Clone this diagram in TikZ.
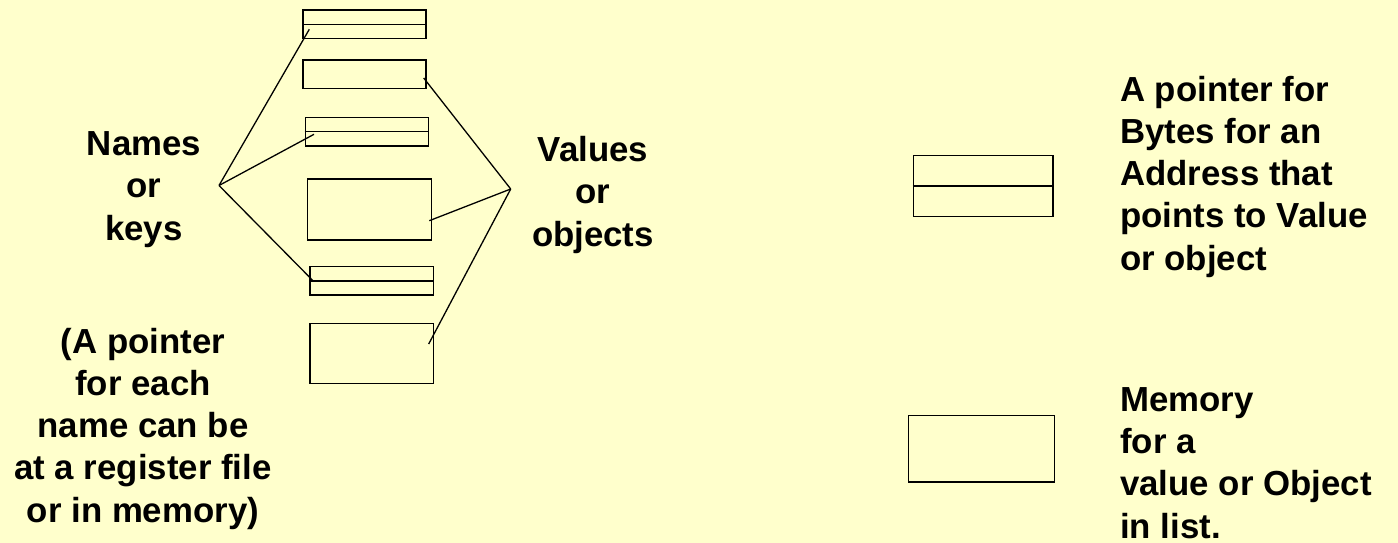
\documentclass[tikz,border=0pt]{standalone}
\usepackage{fontspec}
\setmainfont{Liberation Sans}
\definecolor{bgyellow}{HTML}{FFFFCC}
\begin{document}
\begin{tikzpicture}[x=1pt,y=-1pt,
  cell/.style={draw=black,line width=1.5pt,inner sep=0pt,fill=none},
  conn/.style={draw=black,line width=1.3pt},
  lbl/.style={inner sep=0pt,font=\bfseries\fontsize{34.8}{42.2}\selectfont}]
\fill[bgyellow] (0,0) rectangle (1398,543);
\useasboundingbox (0,0) rectangle (1398,543);
% left column of cells
\node[cell,minimum width=123pt,minimum height=28.5pt] (b1) at (364.7,24.3) {};
\node[cell,minimum width=123pt,minimum height=28.5pt] (b2) at (364.7,74.4) {};
\node[cell,minimum width=123.4pt,minimum height=28.7pt] (b3) at (367,131.7) {};
\node[cell,minimum width=124pt,minimum height=61pt] (b4) at (369.3,209.5) {};
\node[cell,minimum width=123.3pt,minimum height=28.3pt] (b5) at (371.7,280.8) {};
\node[cell,minimum width=123.3pt,minimum height=60pt] (b6) at (371.7,353.3) {};
\draw[line width=1.5pt] (b1.west) -- (b1.east);
\draw[line width=1.5pt] (b3.west) -- (b3.east);
\draw[line width=1.5pt] (b5.west) -- (b5.east);
% right legend cells
\node[cell,minimum width=139.7pt,minimum height=61pt] (ra) at (983.2,185.8) {};
\draw[line width=1.5pt] (ra.west) -- (ra.east);
\node[cell,minimum width=145.6pt,minimum height=66.7pt] (rb) at (981.5,448.6) {};
% hubs and connector ends
\coordinate (nh) at (219,185.5);
\coordinate (vh) at (510.7,189);
\coordinate (e1) at (309.3,29.3);
\coordinate (e3) at (314,134.3);
\coordinate (e5) at (313.3,281);
\coordinate (e2) at (423.7,78);
\coordinate (e4) at (429.3,220.7);
\coordinate (e6) at (428.7,344);
\draw[conn] (nh) -- (e1);
\draw[conn] (nh) -- (e3);
\draw[conn] (nh) -- (e5);
\draw[conn] (vh) -- (e2);
\draw[conn] (vh) -- (e4);
\draw[conn] (vh) -- (e6);
% labels (base anchor = baseline of last line)
\node[lbl,align=center,anchor=base] (names) at (144,240) {Names\\or\\keys};
\node[lbl,align=center,anchor=base] (values) at (593,246) {Values\\or\\objects};
\node[lbl,align=center,anchor=base] (note) at (143,522) {(A pointer\\for each\\name can be\\at a register file\\or in memory)};
\node[lbl,align=left,anchor=base west] (ptr) at (1120,270) {A pointer for\\Bytes for an\\Address that\\points to Value\\or object};
\node[lbl,align=left,anchor=base west] (mem) at (1120,538) {Memory\\for a\\value or Object\\in list.};
\end{tikzpicture}
\end{document}
